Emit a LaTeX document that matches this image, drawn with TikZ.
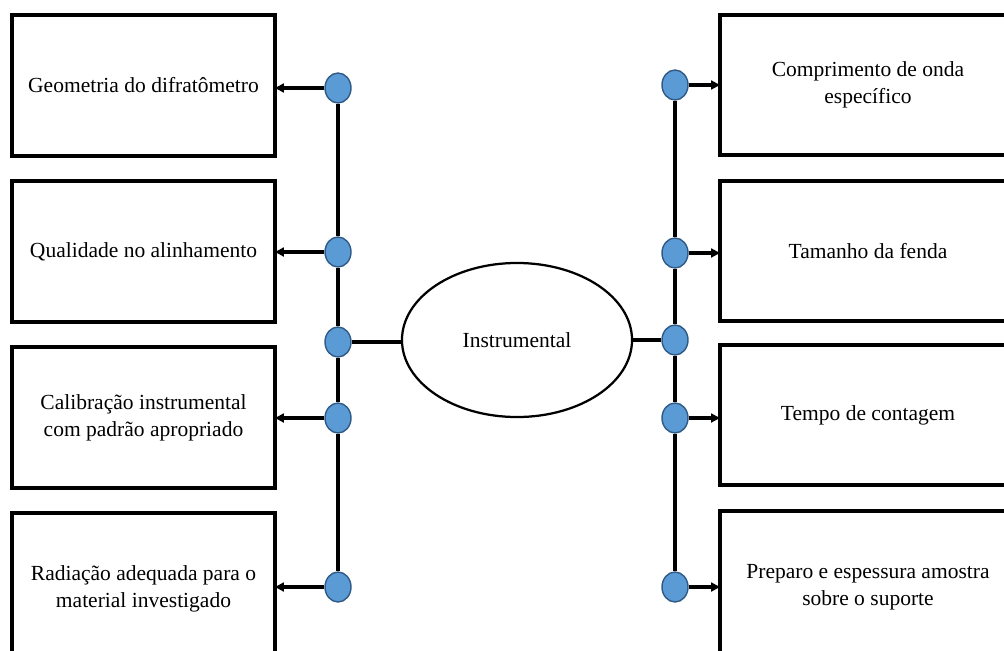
\documentclass[tikz,border=0pt]{standalone}
\usepackage{fontspec}
\setmainfont{Liberation Serif}
\usetikzlibrary{arrows.meta,positioning,shapes}
\definecolor{dotblue}{HTML}{5B9BD5}
\definecolor{dotedge}{HTML}{2F5A85}

\begin{document}
\begin{tikzpicture}[
  x=0.025cm, y=-0.025cm,
  node distance=0.625cm,
  box/.style={draw, line width=2.6pt, outer sep=0pt, minimum width=6.575cm, minimum height=3.525cm, align=center, font=\fontsize{15.3}{19}\selectfont},
  rbox/.style={box, minimum width=7.4cm, minimum height=3.5cm},
  dot/.style={ellipse, draw=dotedge, fill=dotblue, line width=1pt, minimum width=0.65cm, minimum height=0.75cm, inner sep=0pt},
  link/.style={line width=2.2pt},
  arr/.style={-{Triangle[length=2.2mm, width=2.2mm]}, line width=2.2pt},
]
  \useasboundingbox (0,0) rectangle (1004,650);
  \clip (0,0) rectangle (1004,650);

  % Left column
  \node[box] (geom) at (143.5,85.5) {Geometria do difratômetro};
  \node[box, below=of geom] (alin) {Qualidade no alinhamento};
  \node[box, below=of alin] (calib) {Calibração instrumental\\com padrão apropriado};
  \node[box, below=of calib, minimum height=3.8cm] (radi) {Radiação adequada para o\\material investigado};

  % Right column
  \node[rbox] (onda) at (868,85) {Comprimento de onda\\específico};
  \node[rbox, below=0.65cm of onda] (fenda) {Tamanho da fenda};
  \node[rbox, below=0.6cm of fenda] (tempo) {Tempo de contagem};
  \node[rbox, below=0.65cm of tempo, minimum height=3.8cm] (prep) {Preparo e espessura amostra\\sobre o suporte};

  % Centre
  \node[ellipse, draw, line width=1.6pt, minimum width=5.75cm, minimum height=3.85cm, font=\fontsize{15.3}{19}\selectfont] (inst) at (517,340) {Instrumental};

  % Dots
  \node[dot] (ld1) at (338,88) {};
  \node[dot] (ld2) at (338,252) {};
  \node[dot] (ld0) at (338,342) {};
  \node[dot] (ld3) at (338,418) {};
  \node[dot] (ld4) at (338,587) {};
  \node[dot] (rd1) at (675,85) {};
  \node[dot] (rd2) at (675,253) {};
  \node[dot] (rd0) at (675,340) {};
  \node[dot] (rd3) at (675,418) {};
  \node[dot] (rd4) at (675,587) {};

  % Spines
  \draw[link] (ld1) -- (ld2) -- (ld0) -- (ld3) -- (ld4);
  \draw[link] (rd1) -- (rd2) -- (rd0) -- (rd3) -- (rd4);
  \draw[link, line width=2.6pt] (ld0.east) -- (ld0.east -| inst.west);
  \draw[link, line width=2.6pt] (rd0.west) -- (rd0.west -| inst.east);

  % Arrows
  \draw[arr] (ld1.west) -- (ld1.west -| geom.east);
  \draw[arr] (ld2.west) -- (ld2.west -| alin.east);
  \draw[arr] (ld3.west) -- (ld3.west -| calib.east);
  \draw[arr] (ld4.west) -- (ld4.west -| radi.east);
  \draw[arr] (rd1.east) -- (rd1.east -| onda.west);
  \draw[arr] (rd2.east) -- (rd2.east -| fenda.west);
  \draw[arr] (rd3.east) -- (rd3.east -| tempo.west);
  \draw[arr] (rd4.east) -- (rd4.east -| prep.west);
\end{tikzpicture}
\end{document}
